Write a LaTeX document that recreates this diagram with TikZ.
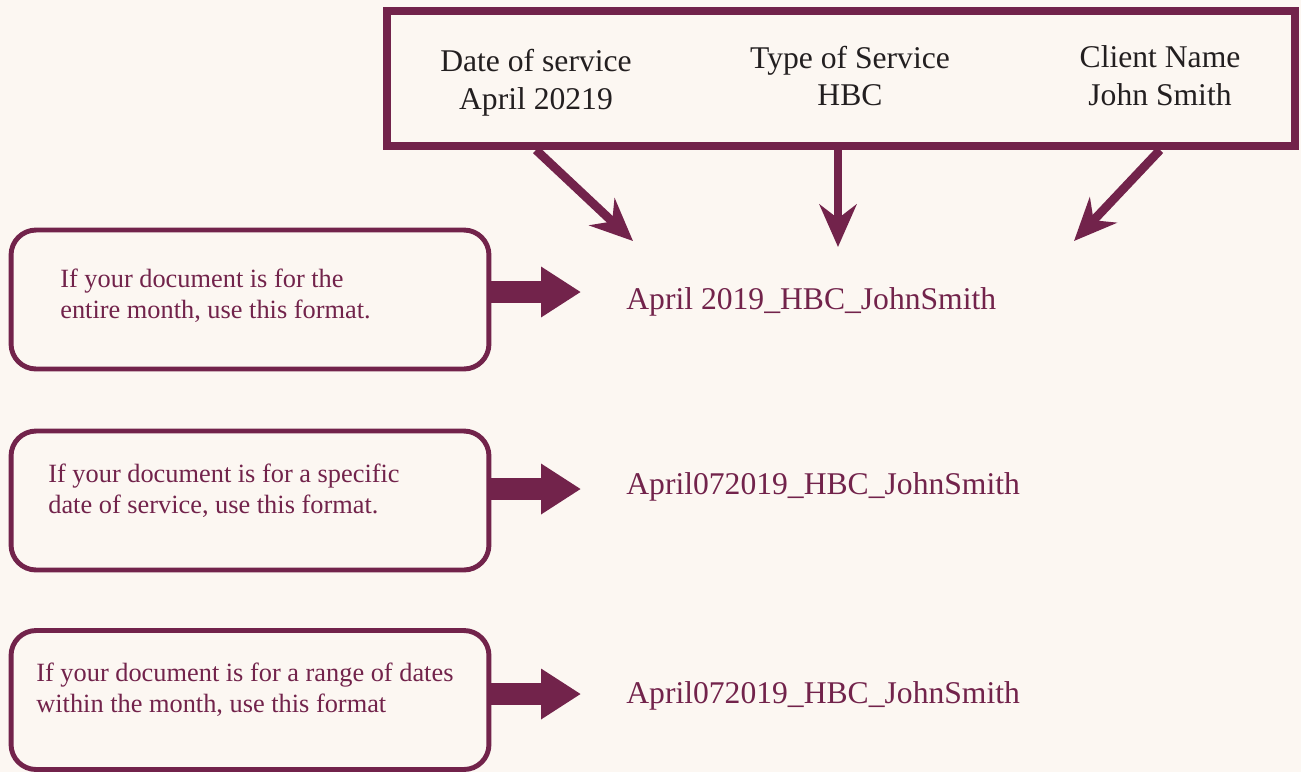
\documentclass[tikz,border=0pt]{standalone}
\usepackage{fontspec}
\setmainfont{Liberation Serif}
\usetikzlibrary{arrows.meta,positioning,calc}
\definecolor{plum}{RGB}{114,35,75}
\definecolor{cream}{RGB}{252,247,242}
\definecolor{ink}{RGB}{35,31,32}
\tikzset{
  hbox/.style={draw=plum, line width=4.5pt, minimum width=18.16cm, minimum height=2.7cm, inner sep=0pt},
  hlab/.style={font=\fontsize{18}{21.5}\selectfont, text=ink, align=center, inner sep=0pt},
  cbox/.style={draw=plum, line width=2.8pt, rounded corners=0.5cm, minimum width=9.56cm, minimum height=2.78cm, inner sep=0pt},
  clab/.style={font=\fontsize{15}{17.6}\selectfont, text=plum, align=left, anchor=west, inner sep=0pt},
  fname/.style={font=\fontsize{18}{21}\selectfont, text=plum, anchor=west, inner sep=0pt},
  darr/.style={plum, line width=5pt, -{Stealth[length=0.85cm, width=0.74cm, inset=0.28cm]}},
  barr/.style={plum, line width=12.5pt, -{Triangle[length=0.8cm, width=0.96cm]}},
}

\begin{document}
\begin{tikzpicture}[x=0.02cm, y=-0.02cm]
  \useasboundingbox (0,0) rectangle (1301,772);
  \fill[cream] (0,0) rectangle (1301,772);
  % header with the three parts of the name
  \node[hbox] (hdr) at (841,78.5) {};
  \node[hlab] (date) at (536,83) {Date of service\\April 20219};
  \node[hlab] (type) at (850,76) {Type of Service\\HBC};
  \node[hlab] (client) at (1160,76) {Client Name\\John Smith};
  \coordinate (dtip) at (633,241);
  \coordinate (ttip) at (838,247);
  \coordinate (ctip) at (1074,241);
  \draw[darr] (hdr.south -| date) -- (dtip);
  \draw[darr] (hdr.south -| ttip) -- (ttip);
  \draw[darr] (hdr.south -| client) -- (ctip);
  % the three cases
  \node[cbox] (case1) at (250,299.5) {};
  \node[cbox] (case2) at (250,500.5) {};
  \node[cbox] (case3) at (250,700) {};
  \node[clab] (txt1) at (60,296) {If your document is for the\\entire month, use this format.};
  \node[clab] (txt2) at (48,490.5) {If your document is for a specific\\date of service, use this format.};
  \node[clab] (txt3) at (36,690) {If your document is for a range of dates\\within the month, use this format};
  \coordinate (ftip1) at (581,292);
  \coordinate (ftip2) at (581,489);
  \coordinate (ftip3) at (581,694);
  \draw[barr] (case1.east |- ftip1) -- (ftip1);
  \draw[barr] (case2.east |- ftip2) -- (ftip2);
  \draw[barr] (case3.east |- ftip3) -- (ftip3);
  \node[fname] (name1) at (626,302) {April 2019\_HBC\_JohnSmith};
  \node[fname] (name2) at (626,487) {April072019\_HBC\_JohnSmith};
  \node[fname] (name3) at (626,696) {April072019\_HBC\_JohnSmith};
\end{tikzpicture}
\end{document}
